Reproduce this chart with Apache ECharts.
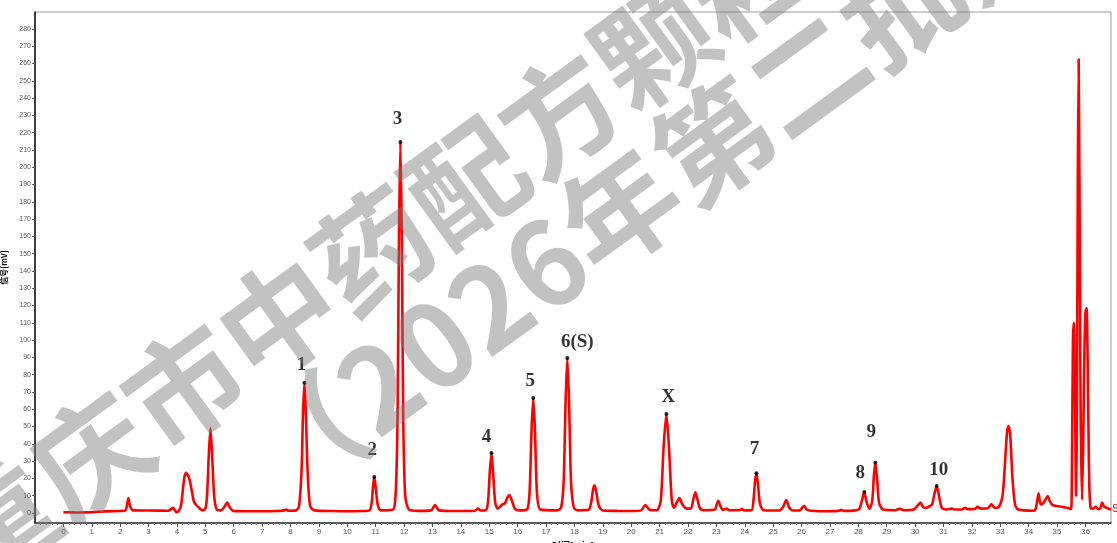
<!DOCTYPE html>
<html>
<head>
<meta charset="utf-8">
<script src="https://cdn.jsdelivr.net/npm/echarts@6/dist/echarts.min.js"></script>
<style>
html,body{margin:0;padding:0;background:#fff;}
#chart{width:1117px;height:543px;}
</style>
</head>
<body>
<div id="chart"></div>
<script>
// ---- data (time in min, signal in mV) ----
const times = [
0,0.5,1.0,1.5,2.0,2.18,2.24,2.29,2.35,2.45,
3.0,3.7,3.79,3.86,3.93,3.98,4.06,4.14,4.2,4.26,4.32,4.38,4.45,4.53,4.6,4.68,4.78,4.9,
5.0,5.06,5.12,5.18,5.24,5.31,5.4,5.55,5.67,5.77,5.87,5.98,
6.5,7.0,7.5,7.78,7.85,7.93,8.2,8.3,8.39,8.44,8.49,8.54,8.6,8.69,8.85,
9.5,10.0,10.5,10.78,10.86,10.91,10.95,11.0,11.07,11.18,
11.6,11.7,11.77,11.82,11.87,11.92,11.97,12.04,12.18,
12.5,12.95,13.09,13.23,13.8,14.5,14.6,14.7,14.88,14.96,15.02,15.08,15.14,15.21,15.3,15.38,15.46,15.55,15.64,15.71,15.8,15.9,16.05,
16.33,16.42,16.49,16.55,16.61,16.68,16.8,
17.4,17.53,17.62,17.69,17.75,17.81,17.88,17.98,18.12,
18.5,18.6,18.66,18.71,18.77,18.86,19.0,19.5,20.0,20.35,20.5,20.65,
20.9,21.04,21.14,21.24,21.33,21.43,21.51,21.6,21.7,21.8,21.95,22.1,22.19,22.26,22.33,22.43,22.6,
22.95,23.01,23.07,23.14,23.23,23.35,23.45,23.85,23.9,23.97,
24.24,24.31,24.36,24.41,24.47,24.54,24.67,
25.2,25.35,25.46,25.57,25.7,25.95,26.04,26.1,26.18,26.35,27.0,27.3,27.4,27.5,27.9,
28.04,28.14,28.21,28.28,28.39,28.49,28.55,28.6,28.66,28.73,28.87,
29.3,29.45,29.6,29.95,30.1,30.19,30.28,30.4,30.5,30.6,30.68,30.76,30.84,30.94,
31.1,31.3,31.4,31.65,31.75,31.85,32.1,32.2,32.3,32.55,32.69,32.8,
32.95,33.08,33.17,33.24,33.29,33.35,33.43,33.52,33.63,
34.2,34.28,34.35,34.42,34.5,34.6,34.67,34.75,34.85,35.0,35.2,35.35,35.45,35.5,
35.53,35.56,35.59,35.63,35.67,35.7,35.73,35.76,35.79,35.83,35.88,35.92,35.96,36.0,36.04,36.08,36.13,36.18,
36.27,36.37,36.45,36.52,36.59,36.66,36.75,36.84,36.9
];
const signal = [
0.4,0.3,0.5,0.9,1.2,1.4,4.5,8.7,4,1.5,
1.4,1.3,2.2,3,1.5,0.4,1.2,4,12,20.5,23.3,22,19,12,6.5,4.6,3,1.5,
2.5,10,33,49,33,10,2,1.5,3.5,6,3,1.2,
1,1,1.1,1.5,2,1.3,1.5,4,25,58,75.4,58,25,4,1.5,
1.1,1,1.1,1.5,6,16,20.8,15,5,1.5,
1.8,10,55,160,214.6,160,55,10,1.8,
1.2,1.5,4.6,1.5,1.1,1.3,2.5,1.4,1.6,7,24,34.7,22,6,2.5,3.5,5,5.5,9,10.4,7,2.5,1.5,
2,12,48,66.5,48,12,2,
1.5,3,18,65,89.6,65,18,3,1.5,
1.8,7,14,16,12,4,1.4,1.2,1.1,1.5,4.6,1.8,
1.6,7,38,57.2,38,7,3,6,8.6,5,2.5,2.5,8,12,8,2.5,1.6,
2,5,7,4,1.8,2.5,1.6,1.8,2.4,1.5,
1.6,8,18,23,16,5,1.6,
1.4,3.5,7.5,3,1.4,1.6,3.5,4,2,1.3,1.0,1.2,1.8,1.2,1.5,
2.5,8,12.1,7,2.5,7,22,29,20,6,2,
1.6,2.4,1.6,2,4.5,6,3.5,3,3.8,5,11,15.6,10,3,
2,2.5,2,2,3,2.2,2.3,3.6,2.5,2.7,5,3,
3.5,10,30,47,50.3,45,20,5,2,
1.3,5,11.4,5,5.5,8,9.8,6.5,4.5,4,3.5,3,2.5,2.3,
40,100,110,70,10,60,190,262.6,190,60,7.5,40,90,116,118.5,85,20,3,
2.5,3.6,2.2,2.8,6,3.5,3,2.3,2
];
const peakNames = ['1','2','3','4','5','6(S)','X','7','8','9','10'];
const peakTimes = [8.49,10.95,11.87,15.08,16.55,17.75,21.24,24.41,28.21,28.6,30.76];
const peakValues = [75.4,20.8,214.6,34.7,66.5,89.6,57.2,23,12.1,29,15.6];
const yTicks = [0,10,20,30,40,50,60,70,80,90,100,110,120,130,140,150,160,170,180,190,200,210,220,230,240,250,260,270,280];
const xTicks = [0,1,2,3,4,5,6,7,8,9,10,11,12,13,14,15,16,17,18,19,20,21,22,23,24,25,26,27,28,29,30,31,32,33,34,35,36];
const xTitle = '时间[min]';
const yTitle = '信号[mV]';
const endTag = 'S';
const watermark1 = '重庆市中药配方颗粒';
const watermark2 = '（2026年第二批）';

// ---- label placement (styling only) ----
const labelShift = {'1':[-3,-18],'2':[-2,-27],'3':[-3,-23],'4':[-5,-16],'5':[-3,-17],'6(S)':[10,-16],'X':[2,-17],'7':[-2,-24],'8':[-4,-19],'9':[-4,-31],'10':[2,-16]};

const lineData = times.map((t,i)=>[t,signal[i]]);
const peakData = peakNames.map((n,i)=>({value:[peakTimes[i],peakValues[i]], name:n,
  label:{offset:labelShift[n]}}));

const chart = echarts.init(document.getElementById('chart'));
chart.setOption({
  animation:false,
  backgroundColor:'#fff',
  grid:{left:35,right:6,top:12,bottom:20,show:true,borderColor:'#9a9a9a',borderWidth:1,
        outerBoundsMode:'none',containLabel:false},
  xAxis:{
    type:'value', min:-1, max:36.9, interval:1,
    name:xTitle, nameLocation:'middle', nameGap:17,
    nameTextStyle:{fontSize:9,fontWeight:'bold',color:'#111',fontFamily:'Noto Sans CJK SC'},
    axisLine:{show:true,onZero:false,lineStyle:{color:'#333',width:1.5}},
    axisTick:{show:true,length:4,lineStyle:{color:'#555'},customValues:xTicks},
    minorTick:{show:true,splitNumber:5,length:2,lineStyle:{color:'#777'}},
    axisLabel:{fontSize:8,color:'#555',margin:5,fontFamily:'Liberation Sans',customValues:xTicks},
    splitLine:{show:false}
  },
  yAxis:{
    type:'value', min:-5.8, max:289.8,
    name:yTitle, nameLocation:'middle', nameGap:22, nameRotate:90,
    nameTextStyle:{fontSize:8,fontWeight:'bold',color:'#111',fontFamily:'Noto Sans CJK SC'},
    axisLine:{show:true,onZero:false,lineStyle:{color:'#111',width:1.5}},
    axisTick:{show:true,length:3,lineStyle:{color:'#555'},customValues:yTicks},
    axisLabel:{fontSize:7,color:'#555',margin:4,fontFamily:'Liberation Sans',customValues:yTicks},
    splitLine:{show:false}
  },
  series:[
    {type:'line', data:lineData, showSymbol:false, smooth:0.25,
     lineStyle:{color:'#ff0000',width:2.6}, z:2,
     endLabel:{show:true,formatter:endTag,color:'#e00000',fontSize:10,distance:1,fontFamily:'Liberation Sans'}},
    {type:'scatter', data:peakData, symbol:'circle', symbolSize:4,
     itemStyle:{color:'#000'}, z:3,
     label:{show:true,position:'inside',formatter:p=>p.name,
       fontFamily:'Liberation Serif',fontWeight:'bold',fontSize:19,color:'#000'}}
  ],
  graphic:[
    {type:'text', x:372, y:250, rotation:36*Math.PI/180, z:100, silent:true,
     style:{text:watermark1,font:'bold 116px "Noto Sans CJK SC"',fill:'rgba(120,120,120,0.45)',
       textAlign:'center',textVerticalAlign:'middle'}},
    {type:'text', x:650, y:188, rotation:36*Math.PI/180, z:100, silent:true,
     style:{text:watermark2,font:'bold 116px "Noto Sans CJK SC"',fill:'rgba(120,120,120,0.45)',
       textAlign:'center',textVerticalAlign:'middle'}}
  ]
});
</script>
</body>
</html>
